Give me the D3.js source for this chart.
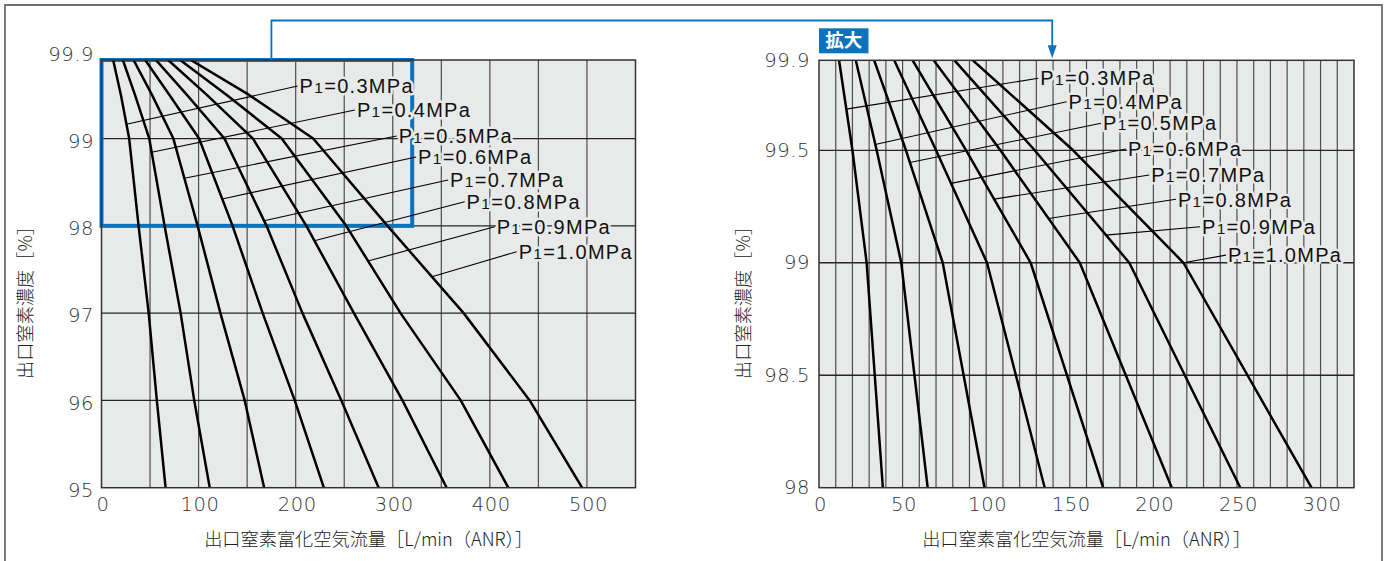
<!DOCTYPE html>
<html>
<head>
<meta charset="utf-8">
<script src="https://cdn.jsdelivr.net/npm/d3@7"></script>
<style>
  html, body { margin: 0; padding: 0; background: #fff; }
  svg { display: block; }
</style>
</head>
<body>
<svg id="chart" width="1387" height="561"></svg>
<script>
// Outlet nitrogen purity levels [%] at which each pressure curve is sampled
const purityLevels = [99.9, 99.5, 99, 98, 97, 96, 95];

// Outlet flow [L/min (ANR)] for each supply pressure P1, one value per purity level
const pressureLabels = ["0.3", "0.4", "0.5", "0.6", "0.7", "0.8", "0.9", "1.0"];
const flowP03 = [12, 20, 28.5, 38.2, 48.6, 57, 66];
const flowP04 = [22, 34.5, 49.2, 65, 81.5, 95.5, 111.5];
const flowP05 = [33, 52, 74, 99, 122.5, 147.5, 167.5];
const flowP06 = [45, 70, 100.5, 135, 166, 199, 229];
const flowP07 = [56, 88, 126.6, 170, 207, 247, 285.5];
const flowP08 = [68.6, 108.5, 156, 211, 260, 310, 355.5];
const flowP09 = [81, 129, 185.6, 252, 308, 370, 419];
const flowP10 = [92, 152, 218, 294.6, 373, 441, 495];

// Axis ticks
const leftXTicks = [0, 100, 200, 300, 400, 500];
const leftYTicks = [95, 96, 97, 98, 99, 99.9];
const rightXTicks = [0, 50, 100, 150, 200, 250, 300];
const rightYTicks = [98, 98.5, 99, 99.5, 99.9];

// Texts
const yTitle = "出口窒素濃度［%］";
const xTitle = "出口窒素富化空気流量［L/min（ANR）］";
const zoomTag = "拡大";

const flowTable = [flowP03, flowP04, flowP05, flowP06, flowP07, flowP08, flowP09, flowP10];
const series = pressureLabels.map((p, i) => ({ label: p, flows: flowTable[i] }));

// Callouts: purity where the leader touches the curve, and the label anchor (flow, purity)
const leftCallouts = [
  [99.163, 202, 99.602], [98.843, 261, 99.327], [98.545, 304, 99.029], [98.308, 324, 98.789],
  [98.059, 357, 98.525], [97.83, 374, 98.277], [97.597, 405, 97.99], [97.417, 427.6, 97.704]
];
const rightCallouts = [
  [99.683, 131.2, 99.82], [99.526, 148.1, 99.716], [99.446, 168.7, 99.62], [99.353, 183.6, 99.506],
  [99.283, 197.5, 99.39], [99.197, 213.5, 99.282], [99.123, 227.9, 99.16], [99.0, 243.4, 99.034]
];

const BLUE = "#0b72bd";
const PLOT_BG = "#e8e9e9";
const LATIN = "'Liberation Sans', Arial, sans-serif";
const DIGITS = "'DejaVu Sans', sans-serif";
const CJK = "'Noto Sans CJK JP', sans-serif";

// Flow on a curve at a given purity (linear between sampled levels)
function flowAt(flows, p) {
  for (let i = 0; i < purityLevels.length - 1; i++) {
    const a = purityLevels[i], b = purityLevels[i + 1];
    if (p <= a && p >= b) {
      const t = (a - p) / (a - b);
      return flows[i] + t * (flows[i + 1] - flows[i]);
    }
  }
  return flows[flows.length - 1];
}

const svg = d3.select("#chart");

// Outer frame
svg.append("path")
  .attr("d", "M5,561 V5 H1382 V561")
  .attr("fill", "none").attr("stroke", "#6e6e6e").attr("stroke-width", 1.8);

function drawPanel(cfg) {
  const g = svg.append("g");
  const x = d3.scaleLinear().domain(cfg.xDomain).range([cfg.x0, cfg.x1]);
  const y = d3.scaleLinear().domain(cfg.yDomain).range([cfg.y1, cfg.y0]);

  g.append("rect")
    .attr("x", cfg.x0).attr("y", cfg.y0)
    .attr("width", cfg.x1 - cfg.x0).attr("height", cfg.y1 - cfg.y0)
    .attr("fill", PLOT_BG);

  // grid
  g.append("g").selectAll("line").data(cfg.xGrid).join("line")
    .attr("x1", d => x(d)).attr("x2", d => x(d))
    .attr("y1", cfg.y0).attr("y2", cfg.y1)
    .attr("stroke", "#4d4d4d").attr("stroke-width", 1.2);
  g.append("g").selectAll("line").data(cfg.yGrid).join("line")
    .attr("x1", cfg.x0).attr("x2", cfg.x1)
    .attr("y1", d => y(d)).attr("y2", d => y(d))
    .attr("stroke", "#262626").attr("stroke-width", 1.3);

  // magnified region marker
  if (cfg.zoomRegion) {
    const zr = cfg.zoomRegion;
    g.append("rect")
      .attr("x", x(zr.x[0])).attr("y", y(zr.y[1]))
      .attr("width", x(zr.x[1]) - x(zr.x[0])).attr("height", y(zr.y[0]) - y(zr.y[1]))
      .attr("fill", "none").attr("stroke", BLUE).attr("stroke-width", 4);
  }

  // curves
  const clipId = "clip-" + cfg.id;
  svg.append("clipPath").attr("id", clipId).append("rect")
    .attr("x", cfg.x0).attr("y", cfg.y0)
    .attr("width", cfg.x1 - cfg.x0).attr("height", cfg.y1 - cfg.y0);
  const line = d3.line().x(d => x(d.f)).y(d => y(d.p));
  g.append("g").attr("clip-path", `url(#${clipId})`)
    .selectAll("path").data(series).join("path")
    .attr("d", s => line(purityLevels.map((p, i) => ({ p, f: s.flows[i] }))))
    .attr("fill", "none").attr("stroke", "#000").attr("stroke-width", 2.5)
    .attr("stroke-linejoin", "round");

  // leader lines
  g.append("g").selectAll("line").data(series).join("line")
    .attr("x1", (s, i) => x(flowAt(s.flows, cfg.callouts[i][0])))
    .attr("y1", (s, i) => y(cfg.callouts[i][0]))
    .attr("x2", (s, i) => x(cfg.callouts[i][1]))
    .attr("y2", (s, i) => y(cfg.callouts[i][2]))
    .attr("stroke", "#000").attr("stroke-width", 1.1);

  // pressure labels with a background-coloured halo
  const lbl = g.append("g").selectAll("text").data(series).join("text")
    .attr("x", (s, i) => x(cfg.callouts[i][1]) + 2)
    .attr("y", (s, i) => y(cfg.callouts[i][2]) + 7.2)
    .attr("font-family", LATIN).attr("font-size", 20)
    .attr("letter-spacing", 1.3)
    .attr("fill", "#111")
    .attr("stroke", PLOT_BG).attr("stroke-width", 5).attr("stroke-linejoin", "round")
    .attr("paint-order", "stroke");
  lbl.append("tspan").text("P");
  lbl.append("tspan").attr("font-size", 15.5).text("1");
  lbl.append("tspan").text(s => "=" + s.label + "MPa");

  // plot frame
  g.append("rect")
    .attr("x", cfg.x0).attr("y", cfg.y0)
    .attr("width", cfg.x1 - cfg.x0).attr("height", cfg.y1 - cfg.y0)
    .attr("fill", "none").attr("stroke", "#333").attr("stroke-width", 1.5);

  // axes
  const fmt = d => String(d);
  const xAxis = g.append("g").attr("transform", `translate(0,${cfg.y1})`)
    .call(d3.axisBottom(x).tickValues(cfg.xTicks).tickSize(0).tickFormat(fmt));
  xAxis.select(".domain").remove();
  xAxis.selectAll("text")
    .attr("y", 23.5).attr("dy", null).attr("dx", 1)
    .attr("font-family", DIGITS).attr("font-weight", 300).attr("font-size", 19.5)
    .attr("letter-spacing", 0.6).attr("fill", "#333");

  const yAxis = g.append("g").attr("transform", `translate(${cfg.x0},0)`)
    .call(d3.axisLeft(y).tickValues(cfg.yTicks).tickSize(0).tickFormat(fmt));
  yAxis.select(".domain").remove();
  yAxis.selectAll("text")
    .attr("x", -cfg.yPad).attr("dy", null)
    .attr("y", d => cfg.yLabelShift(d) + 7.2)
    .attr("font-family", DIGITS).attr("font-weight", 300).attr("font-size", 19.5)
    .attr("letter-spacing", 0.6).attr("fill", "#333");

  // titles
  const cx = (cfg.x0 + cfg.x1) / 2;
  g.append("text")
    .attr("x", cx).attr("y", 539).attr("dy", "0.36em")
    .attr("text-anchor", "middle")
    .attr("font-family", CJK).attr("font-weight", 300).attr("font-size", 18.2).attr("fill", "#222")
    .text(xTitle);
  g.append("text")
    .attr("transform", `translate(${cfg.yTitleX},298) rotate(-90)`)
    .attr("dy", "0.36em").attr("text-anchor", "middle")
    .attr("font-family", CJK).attr("font-weight", 300).attr("font-size", 18.2).attr("fill", "#222")
    .text(yTitle);

  return { x, y };
}

const left = drawPanel({
  id: "overview",
  x0: 101.5, x1: 635.5, y0: 60, y1: 487.7,
  xDomain: [0, 550], yDomain: [95, 99.9],
  xGrid: d3.range(50, 550, 50), yGrid: [96, 97, 98, 99],
  xTicks: leftXTicks, yTicks: leftYTicks,
  yPad: 7.5, yLabelShift: d => (d === 99.9 ? -7 : 1.5),
  yTitleX: 25,
  zoomRegion: { x: [0, 320], y: [98, 99.9] },
  callouts: leftCallouts
});

const right = drawPanel({
  id: "magnified",
  x0: 819, x1: 1354, y0: 60.3, y1: 487.7,
  xDomain: [0, 320], yDomain: [98, 99.9],
  xGrid: d3.range(10, 320, 10), yGrid: [98.5, 99, 99.5],
  xTicks: rightXTicks, yTicks: rightYTicks,
  yPad: 9, yLabelShift: d => -1.2,
  yTitleX: 743,
  zoomRegion: null,
  callouts: rightCallouts
});

// connector from the marked region to the magnified chart
const cStartX = left.x(175), cEndX = right.x(139.5);
const cTopY = 20.5, cStartY = left.y(99.9), headTip = right.y(99.9) - 2;
svg.append("path")
  .attr("d", `M${cStartX},${cStartY} V${cTopY} H${cEndX} V${headTip - 10}`)
  .attr("fill", "none").attr("stroke", BLUE).attr("stroke-width", 1.8);
svg.append("path")
  .attr("d", `M${cEndX - 4.5},${headTip - 13} L${cEndX + 4.5},${headTip - 13} L${cEndX},${headTip} Z`)
  .attr("fill", BLUE);

// "magnified" tag
const tagX = right.x(0), tagY = 28.3;
svg.append("rect")
  .attr("x", tagX).attr("y", tagY).attr("width", 49.5).attr("height", 25)
  .attr("fill", BLUE);
svg.append("text")
  .attr("x", tagX + 24.75).attr("y", tagY + 12.5).attr("dy", "0.36em")
  .attr("text-anchor", "middle")
  .attr("font-family", CJK).attr("font-weight", 700).attr("font-size", 18.5)
  .attr("fill", "#fff")
  .text(zoomTag);
</script>
</body>
</html>
